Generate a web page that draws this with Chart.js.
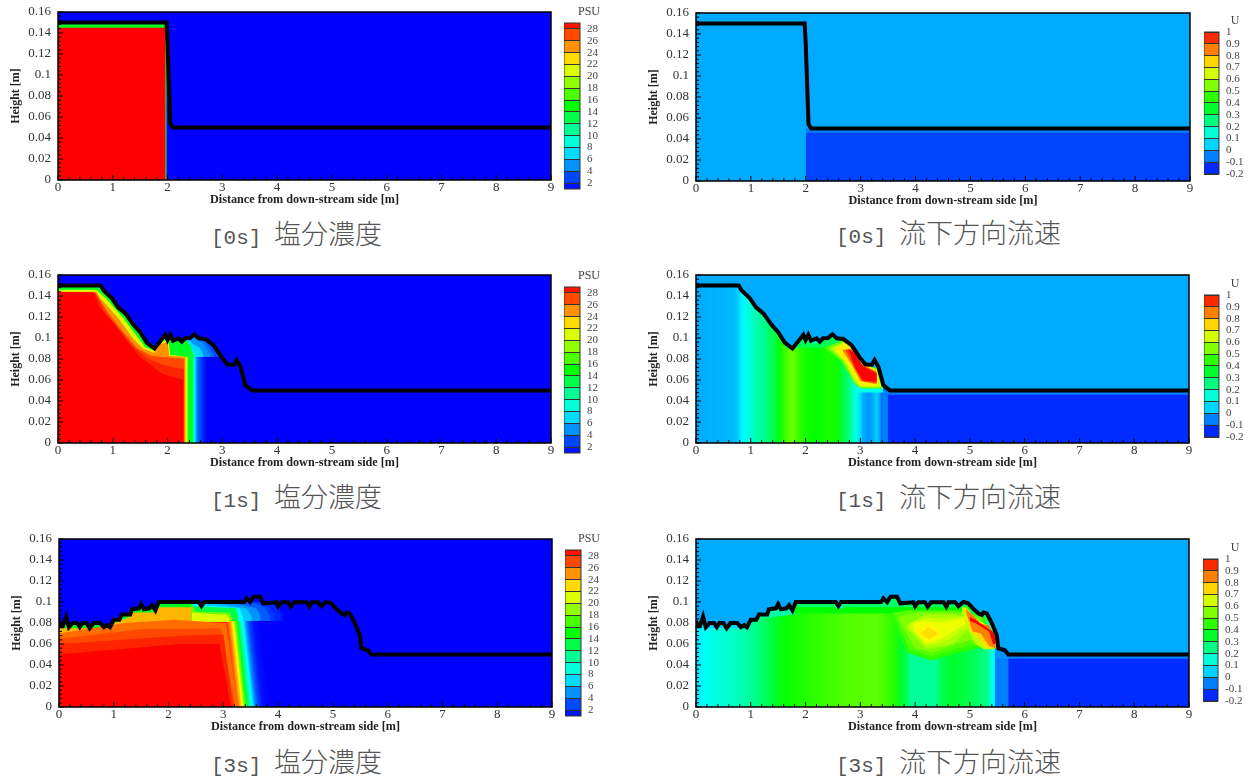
<!DOCTYPE html>
<html>
<head>
<meta charset="utf-8">
<script src="https://cdn.jsdelivr.net/npm/chart.js@4"></script>
<style>
body{margin:0;background:#fff;width:1250px;height:778px;overflow:hidden;position:relative}
canvas{position:absolute}
.cap{position:absolute;line-height:40px;height:40px;white-space:pre;color:#555;font-family:"Noto Sans CJK JP";font-size:27px;font-weight:300}
.cap span{font-family:"Liberation Mono";font-size:21px}
.barTitle{position:absolute;color:#444;font-family:"Liberation Serif";font-size:12px;line-height:14px;transform:translateX(-50%)}
</style>
</head>
<body>
<script>
// ---- axes
const xTicks = [0,1,2,3,4,5,6,7,8,9];
const yTicks = [0,0.02,0.04,0.06,0.08,0.1,0.12,0.14,0.16];
const psuTicks = [2,4,6,8,10,12,14,16,18,20,22,24,26,28];
const uTicks = [-0.2,-0.1,0,0.1,0.2,0.3,0.4,0.5,0.6,0.7,0.8,0.9,1];
const psuEdges = [1,2,4,6,8,10,12,14,16,18,20,22,24,26,28,29];
const uEdges = [-0.2,-0.1,0,0.1,0.2,0.3,0.4,0.5,0.6,0.7,0.8,0.9,1];

// ---- free surface, [x, height]
const surface0s = [[0,0.15],[1.98,0.15],[2.0,0.13],[2.05,0.054],[2.1,0.05],[9,0.05]];
const surface1s = [[0,0.15],[0.78,0.15],[0.83,0.1455],[0.98,0.138],[1.1,0.129],[1.23,0.1235],[1.38,0.1125],[1.5,0.1055],[1.62,0.0957],[1.76,0.09],[1.86,0.0965],[1.96,0.103],[2.0,0.098],[2.05,0.103],[2.1,0.0975],[2.2,0.0997],[2.26,0.0965],[2.32,0.0997],[2.41,0.1],[2.49,0.1035],[2.57,0.0997],[2.69,0.099],[2.84,0.0933],[3.0,0.0807],[3.09,0.075],[3.21,0.0743],[3.26,0.079],[3.33,0.0727],[3.42,0.0552],[3.54,0.05],[9,0.05]];
const surface3s = [[0,0.082],[0.03,0.077],[0.07,0.077],[0.13,0.086],[0.18,0.076],[0.25,0.08],[0.33,0.08],[0.38,0.076],[0.43,0.08],[0.5,0.08],[0.56,0.075],[0.63,0.08],[0.75,0.08],[0.82,0.076],[0.88,0.078],[0.93,0.076],[1,0.083],[1.1,0.083],[1.15,0.088],[1.3,0.088],[1.33,0.093],[1.46,0.094],[1.5,0.098],[1.55,0.093],[1.65,0.094],[1.7,0.097],[1.76,0.092],[1.82,0.1],[2.55,0.1],[2.6,0.096],[2.65,0.1],[3.38,0.1],[3.42,0.1035],[3.49,0.1],[3.55,0.105],[3.67,0.105],[3.73,0.0987],[3.97,0.0997],[4.0,0.096],[4.06,0.0997],[4.18,0.0997],[4.23,0.0955],[4.29,0.0997],[4.52,0.0997],[4.57,0.0955],[4.61,0.0997],[4.73,0.0997],[4.79,0.096],[4.88,0.1],[4.97,0.0987],[5.07,0.093],[5.16,0.089],[5.22,0.0876],[5.25,0.09],[5.31,0.089],[5.4,0.08],[5.49,0.0686],[5.52,0.056],[5.64,0.054],[5.7,0.05],[9,0.05]];

// ---- values along x at the bed
const psu0ColX = [0,9];
const psu0ColV = [1,1];
const u0ColX = [0,9];
const u0ColV = [0,0];
const psu1ColX = [0,2.29,2.32,2.37,2.41,2.44,2.49,2.53,2.57,2.65,2.72,9];
const psu1ColV = [29,29,26,22,18,14,8,5,3.5,2,1,1];
const psu3ColX = [0,3.15,3.22,3.27,3.35,3.39,3.43,3.47,3.53,3.58,3.64,3.72,3.85,9];
const psu3ColV = [29,29,28,26,22,18,14,11,8,5,3,1.5,1,1];
const u1ColX = [0,0.7,0.78,0.84,0.92,1.0,1.1,1.25,1.38,1.5,1.55,1.7,1.76,1.85,2.0,2.2,2.4,2.55,2.65,2.75,2.85,2.92,3.0,3.05,3.15,3.23,3.3,3.35,3.4,3.5,9];
const u1ColU = [0,0.02,0.05,0.09,0.12,0.15,0.2,0.23,0.3,0.36,0.42,0.5,0.53,0.47,0.42,0.4,0.43,0.42,0.35,0.28,0.2,0.12,0.06,0,-0.02,0,0.05,0,-0.08,-0.14,-0.15];
const u3ColX = [0,0.03,0.15,0.25,0.4,0.6,0.85,1.0,1.15,1.3,1.45,1.65,2.0,2.4,2.8,3.3,3.6,3.75,3.85,3.9,4.4,4.45,4.7,5.05,5.3,5.43,5.5,5.55,5.67,5.85,9];
const u3ColU = [0.03,0.08,0.1,0.12,0.14,0.16,0.19,0.22,0.26,0.3,0.35,0.41,0.44,0.47,0.5,0.51,0.45,0.35,0.3,0.22,0.22,0.3,0.35,0.3,0.25,0.1,0,-0.03,-0.08,-0.14,-0.15];

// ---- contour layers, painted in order: [level, x[], top[], bottom[] or nothing for down to 0]
const psu0Layers = [
  [14,[0,1.985],[0.15,0.15]],
  [29,[0,1.965],[0.145,0.145]]
];
const u0Layers = [
  [-0.05,[2.0,9],[0.05,0.05]],
  [-0.12,[2.0,9],[0.046,0.046]]
];
const psu1Layers = [
  [1.6,[2.4,2.95,3.05],[0.104,0.095,0.082],[0.082,0.082,0.082]],
  [2,[2.35,2.9,3.0],[0.104,0.095,0.082],[0.082,0.082,0.082]],
  [3,[2.35,2.78,2.95],[0.104,0.097,0.083],[0.082,0.082,0.082]],
  [4,[2.35,2.7,2.85],[0.104,0.096,0.083],[0.082,0.082,0.082]],
  [5,[2.35,2.65,2.78],[0.104,0.095,0.084],[0.082,0.082,0.082]],
  [7,[2.3,2.45,2.6,2.65],[0.104,0.095,0.09,0.084],[0.082,0.082,0.082,0.082]],
  [10,[2.05,2.4,2.52],[0.1,0.094,0.083],[0.082,0.082,0.082]],
  [14,[0,0.8,1.3,1.62,1.75,1.85,2.3,2.42,2.47],[0.15,0.15,0.125,0.098,0.095,0.105,0.1,0.093,0.083]],
  [21,[0,0.7,0.87,1.19,1.47,1.6,1.78,1.85,2.02,2.05,2.37],[0.146,0.146,0.138,0.119,0.0997,0.091,0.088,0.097,0.098,0.084,0.082]],
  [25,[0,0.7,0.77,1.1,1.37,1.55,1.75,1.85,2.0,2.03,2.33],[0.144,0.144,0.138,0.119,0.0997,0.09,0.086,0.094,0.096,0.083,0.082]],
  [27,[0,0.7,0.9,1.2,1.45,1.7,2.31],[0.144,0.142,0.125,0.105,0.09,0.083,0.08]],
  [28,[0,0.68,0.85,1.12,1.37,1.65,1.95,2.3],[0.144,0.143,0.125,0.108,0.092,0.08,0.074,0.07]],
  [29,[0,0.65,0.75,1.0,1.25,1.5,1.9,2.29],[0.1435,0.1435,0.13,0.115,0.098,0.082,0.066,0.06]]
];
const u1Layers = [
  [-0.05,[3.4,9],[0.05,0.05]],
  [-0.15,[3.5,9],[0.046,0.046]],
  [0.3,[1.62,2.7],[0.105,0.105],[0.091,0.091]],
  [0.15,[2.1,2.3],[0.104,0.104],[0.095,0.095]],
  [0.12,[2.9,3.42],[0.053,0.053],[0.048,0.048]],
  [0.3,[3.3,3.42],[0.068,0.056],[0.052,0.052]],
  [0.52,[2.35,2.65,2.9,3.0,3.35,3.4],[0.091,0.097,0.09,0.076,0.07,0.056],[0.091,0.078,0.056,0.052,0.052,0.052]],
  [0.62,[2.45,2.7,2.9,3.0,3.3,3.38],[0.09,0.097,0.09,0.078,0.07,0.056],[0.09,0.078,0.058,0.053,0.053,0.053]],
  [0.72,[2.55,2.75,3.0,3.2,3.33],[0.09,0.096,0.08,0.072,0.062],[0.089,0.076,0.0545,0.0545,0.0545]],
  [0.85,[2.67,2.85,3.0,3.3],[0.0885,0.09,0.076,0.068],[0.0885,0.074,0.059,0.056]],
  [0.93,[2.73,2.88,3.03,3.3],[0.089,0.088,0.074,0.067],[0.089,0.073,0.059,0.057]],
  [1,[2.78,2.9,3.05,3.3],[0.09,0.085,0.073,0.066],[0.09,0.072,0.0595,0.0585]]
];
const psu3Layers = [
  [1.5,[2.4,3.8,4.0,4.1],[0.1,0.1,0.097,0.088],[0.082,0.082,0.082,0.082]],
  [2,[2.4,3.7,3.95,4.05],[0.1,0.1,0.097,0.088],[0.082,0.082,0.082,0.082]],
  [2.5,[2.4,3.6,3.85,3.95],[0.1,0.1,0.096,0.088],[0.082,0.082,0.082,0.082]],
  [3.5,[2.4,3.5,3.75,3.85],[0.1,0.1,0.095,0.087],[0.082,0.082,0.082,0.082]],
  [5,[2.4,3.2,3.6,3.68],[0.1,0.099,0.094,0.087],[0.082,0.082,0.082,0.082]],
  [6.5,[2.4,2.9,3.42,3.52],[0.1,0.098,0.094,0.086],[0.082,0.082,0.082,0.082]],
  [8,[2.4,2.6,3.3,3.36],[0.1,0.097,0.094,0.085],[0.082,0.082,0.082,0.082]],
  [13,[2.4,2.45,3.24,3.28],[0.1,0.096,0.094,0.084],[0.082,0.082,0.082,0.082]],
  [18,[2.4,2.5,3.12,3.16],[0.1,0.091,0.09,0.084],[0.082,0.082,0.082,0.082]],
  [21,[2.42,2.9,3.05,3.12],[0.09,0.088,0.088,0.084],[0.081,0.081,0.081,0.081]],
  [14,[0,2.42],[0.105,0.105]],
  [24,[0,0.95,1.0,1.3,1.35,1.75,1.8,2.42],[0.075,0.075,0.08,0.086,0.09,0.09,0.095,0.095]],
  [26,[0,1.2,2.1,3.05,3.26],[0.07,0.08,0.083,0.08,0]],
  [27,[0,1.5,2.95,3.22],[0.065,0.074,0.075,0]],
  [28,[0,2.3,3.0,3.18],[0.06,0.068,0.069,0]],
  [29,[0,2.2,2.93,3.14],[0.05,0.06,0.06,0]]
];
const u3Layers = [
  [-0.05,[5.46,9],[0.05,0.05]],
  [-0.15,[5.7,9],[0.046,0.046]],
  [-0.03,[5.46,5.72],[0.056,0.05],[0.046,0.046]],
  [0.05,[0,0.95],[0.09,0.09],[0.075,0.075]],
  [0.2,[0.95,1.8],[0.1,0.1],[0.083,0.088]],
  [0.4,[1.8,5.0],[0.097,0.097],[0.089,0.089]],
  [0.28,[1.8,4.95],[0.105,0.105],[0.095,0.095]],
  [0.1,[2.55,2.68],[0.1,0.1],[0.094,0.094]],
  [0.45,[3.55,3.85,4.3,4.8,5.3],[0.089,0.092,0.092,0.092,0.085],[0.089,0.052,0.044,0.052,0.058]],
  [0.5,[3.6,3.9,4.3,4.8,5.25],[0.09,0.092,0.092,0.092,0.085],[0.09,0.055,0.048,0.056,0.062]],
  [0.55,[3.72,4.0,4.3,4.75,5.2],[0.086,0.09,0.09,0.09,0.084],[0.082,0.056,0.052,0.06,0.066]],
  [0.6,[3.85,4.2,4.7,5.0],[0.078,0.088,0.088,0.085],[0.075,0.055,0.06,0.075]],
  [0.64,[3.9,4.2,4.55,5.0],[0.08,0.085,0.084,0.087],[0.075,0.058,0.062,0.078]],
  [0.68,[3.95,4.2,4.45,4.95],[0.08,0.082,0.08,0.085],[0.075,0.06,0.064,0.08]],
  [0.71,[4.02,4.25,4.45],[0.074,0.08,0.074],[0.072,0.062,0.068]],
  [0.74,[4.1,4.25,4.42],[0.07,0.076,0.07],[0.07,0.064,0.07]],
  [0.62,[4.85,4.95,5.1,5.25,5.46],[0.095,0.095,0.083,0.08,0.06],[0.09,0.075,0.06,0.055,0.055]],
  [0.74,[4.9,5.0,5.15,5.3,5.47],[0.094,0.09,0.081,0.079,0.062],[0.09,0.073,0.065,0.056,0.056]],
  [0.85,[4.93,5.05,5.2,5.35,5.47],[0.093,0.088,0.079,0.078,0.064],[0.09,0.072,0.07,0.058,0.056]],
  [1,[5.0,5.1,5.35,5.42,5.47],[0.086,0.083,0.074,0.072,0.066],[0.082,0.08,0.072,0.06,0.06]]
];

// ---- rainbow as in the colour bars
function rainbow(t){
  t = Math.min(1,Math.max(0,t));
  let r=0,g=0,b=0;
  if(t<0.25){ g=4*t; b=1; }
  else if(t<0.5){ g=1; b=1-(t-0.25)*4; }
  else if(t<0.75){ r=(t-0.5)*4; g=1; }
  else { r=1; g=1-(t-0.75)*4; }
  return "rgb("+Math.round(r*255)+","+Math.round(g*255)+","+Math.round(b*255)+")";
}
const psuColor = v => rainbow((v-1)/28);
const uColor = v => rainbow((v+0.2)/1.2);

const frameTicks = {
  id:"frameTicks",
  afterDraw(chart,args,opts){
    const c = chart.ctx, a = chart.chartArea, sx = chart.scales.x, sy = chart.scales.y;
    c.save();
    c.strokeStyle = "#000";
    c.lineWidth = 1;
    if(opts.minor){
      for(let i=0;i<=45;i++){
        const px = sx.getPixelForValue(i*0.2), len = i%5==0 ? 5 : 3;
        c.beginPath(); c.moveTo(px,a.bottom); c.lineTo(px,a.bottom-len); c.stroke();
      }
      for(let i=0;i<=40;i++){
        const py = sy.getPixelForValue(i*0.004), len = i%5==0 ? 5 : 3;
        c.beginPath(); c.moveTo(a.left,py); c.lineTo(a.left+len,py); c.stroke();
      }
    }
    c.lineWidth = opts.width;
    c.strokeStyle = opts.color;
    c.strokeRect(a.left,a.top,a.right-a.left,a.bottom-a.top);
    c.restore();
  }
};

function addCanvas(left,top,w,h){
  const el = document.createElement("canvas");
  el.width = w; el.height = h;
  el.style.left = left+"px"; el.style.top = top+"px";
  el.style.width = w+"px"; el.style.height = h+"px";
  document.body.appendChild(el);
  return el;
}

function layerSets(layers,colorOf){
  const sets = [];
  layers.forEach(l => {
    const top = l[1].map((x,i) => ({x:x,y:l[2][i]}));
    sets.push({data:top,showLine:true,pointRadius:0,borderWidth:0,fill:l[3] ? "+1" : "origin",backgroundColor:colorOf(l[0])});
    if(l[3]){
      sets.push({data:l[1].map((x,i) => ({x:x,y:l[3][i]})),showLine:true,pointRadius:0,borderWidth:0,fill:false});
    }
  });
  return sets;
}

// colour along x from the column arrays, the lean tilts the front lines
function columnFill(p,colorOf){
  return ctx => {
    const a = ctx.chart.chartArea;
    if(!a) return colorOf(p.colV[0]);
    const k = p.lean || 0, w = a.right-a.left, t = w/(1+k*k);
    const g = ctx.chart.ctx.createLinearGradient(a.left,a.bottom,a.left+t,a.bottom-t*k);
    p.colX.forEach((x,i) => g.addColorStop(x/9,colorOf(p.colV[i])));
    return g;
  };
}

function drawPanel(p){
  const colorOf = p.psu ? psuColor : uColor;
  const padL = 49, padT = 10, padR = 14, axisH = 27;
  const w = p.w+padL+padR, h = p.h+padT+axisH;
  let sets = [{data:[{x:0,y:0.16},{x:9,y:0.16}],showLine:true,pointRadius:0,borderWidth:0,fill:"origin",backgroundColor:columnFill(p,colorOf)}];
  sets = sets.concat(layerSets(p.layers,colorOf));
  // the free surface closes the picture: air above, thick line on it
  sets.push({data:p.surface.map(s => ({x:s[0],y:s[1]})),showLine:true,pointRadius:0,borderColor:"#000",borderWidth:4,fill:"end",backgroundColor:colorOf(p.psu ? 1 : 0)});
  sets.forEach((s,i) => { s.order = sets.length-i; s.tension = 0; });

  new Chart(addCanvas(p.x-padL,p.y-padT,w,h),{
    type:"scatter",
    data:{datasets:sets},
    plugins:[frameTicks],
    options:{
      responsive:false,
      animation:false,
      layout:{padding:{left:0,top:padT,right:padR,bottom:0}},
      plugins:{legend:{display:false},tooltip:{enabled:false},frameTicks:{minor:true,width:1.5,color:"#000"}},
      scales:{
        x:{
          type:"linear",min:0,max:9,
          afterBuildTicks:s => { s.ticks = xTicks.map(v => ({value:v})); },
          afterFit:s => { s.height = axisH; s.paddingLeft = 0; s.paddingRight = 0; },
          grid:{display:false,drawTicks:false},
          border:{display:false},
          ticks:{color:"#333",padding:0,maxRotation:0,autoSkip:false,font:{family:"Liberation Serif",size:13},callback:v => String(v)},
          title:{display:true,text:"Distance from down-stream side [m]",color:"#222",padding:{top:0,bottom:0},font:{family:"Liberation Serif",size:12.2,weight:"bold"}}
        },
        y:{
          type:"linear",min:0,max:0.16,
          afterBuildTicks:s => { s.ticks = yTicks.map(v => ({value:v})); },
          afterFit:s => { s.width = padL; s.paddingTop = 0; s.paddingBottom = 0; },
          grid:{display:false,drawTicks:false},
          border:{display:false},
          ticks:{color:"#333",padding:7,autoSkip:false,font:{family:"Liberation Serif",size:13},callback:v => String(v)},
          title:{display:true,text:"Height [m]",color:"#222",padding:{top:0,bottom:0},font:{family:"Liberation Serif",size:12,weight:"bold"}}
        }
      }
    }
  });
}

function drawBar(b){
  const colorOf = b.psu ? psuColor : uColor;
  const edges = b.psu ? psuEdges : uEdges, ticks = b.psu ? psuTicks : uTicks;
  const labelW = 36;
  const sets = [];
  for(let i=0;i<edges.length-1;i++){
    sets.push({data:[[edges[i],edges[i+1]]],backgroundColor:colorOf((edges[i]+edges[i+1])/2),barPercentage:1,categoryPercentage:1,grouped:false});
  }
  new Chart(addCanvas(b.x,b.y-8,b.w+labelW,b.h+16),{
    type:"bar",
    data:{labels:[b.title],datasets:sets},
    plugins:[frameTicks],
    options:{
      responsive:false,
      animation:false,
      layout:{padding:{top:8,bottom:8}},
      plugins:{legend:{display:false},tooltip:{enabled:false},frameTicks:{minor:false,width:1,color:"#333"}},
      scales:{
        x:{display:false},
        y:{
          position:"right",
          min:edges[0],max:edges[edges.length-1],
          afterBuildTicks:s => { s.ticks = ticks.map(v => ({value:v})); },
          afterFit:s => { s.width = labelW; s.paddingTop = 0; s.paddingBottom = 0; },
          grid:{color:"#333",z:1,drawTicks:false},
          border:{display:false},
          ticks:{color:"#444",padding:7,autoSkip:false,font:{family:"Liberation Serif",size:11},callback:v => String(v)}
        }
      }
    }
  });
  const t = document.createElement("div");
  t.className = "barTitle";
  t.textContent = b.title;
  t.style.left = b.tx+"px"; t.style.top = b.ty+"px";
  document.body.appendChild(t);
}

function caption(left,top,stamp,text){
  const d = document.createElement("div");
  d.className = "cap";
  d.style.left = left+"px"; d.style.top = top+"px";
  const s = document.createElement("span");
  s.textContent = stamp+" ";
  d.appendChild(s);
  d.appendChild(document.createTextNode(text));
  document.body.appendChild(d);
}

drawPanel({x:58,y:12,w:493,h:168,psu:true,colX:psu0ColX,colV:psu0ColV,layers:psu0Layers,surface:surface0s});
drawPanel({x:696,y:13,w:494,h:168,psu:false,colX:u0ColX,colV:u0ColV,layers:u0Layers,surface:surface0s});
drawPanel({x:58,y:275,w:493,h:168,psu:true,colX:psu1ColX,colV:psu1ColV,layers:psu1Layers,surface:surface1s});
drawPanel({x:696,y:275,w:493,h:168,psu:false,colX:u1ColX,colV:u1ColU,layers:u1Layers,surface:surface1s});
drawPanel({x:59,y:539,w:493,h:168,psu:true,colX:psu3ColX,colV:psu3ColV,lean:0.11,layers:psu3Layers,surface:surface3s});
drawPanel({x:696,y:539,w:493,h:168,psu:false,colX:u3ColX,colV:u3ColU,layers:u3Layers,surface:surface3s});

drawBar({x:564,y:23,w:16,h:166,psu:true,title:"PSU",tx:589,ty:4});
drawBar({x:1204,y:32,w:15,h:142,psu:false,title:"U",tx:1235,ty:13});
drawBar({x:564,y:287,w:16,h:166,psu:true,title:"PSU",tx:589,ty:268});
drawBar({x:1204,y:295,w:15,h:142,psu:false,title:"U",tx:1235,ty:276});
drawBar({x:565,y:550,w:16,h:166,psu:true,title:"PSU",tx:589,ty:531});
drawBar({x:1203,y:559,w:15,h:142,psu:false,title:"U",tx:1235,ty:540});

caption(211,213,"[0s]","塩分濃度");
caption(836,212,"[0s]","流下方向流速");
caption(211,476,"[1s]","塩分濃度");
caption(836,476,"[1s]","流下方向流速");
caption(211,741,"[3s]","塩分濃度");
caption(836,741,"[3s]","流下方向流速");
</script>
</body>
</html>
